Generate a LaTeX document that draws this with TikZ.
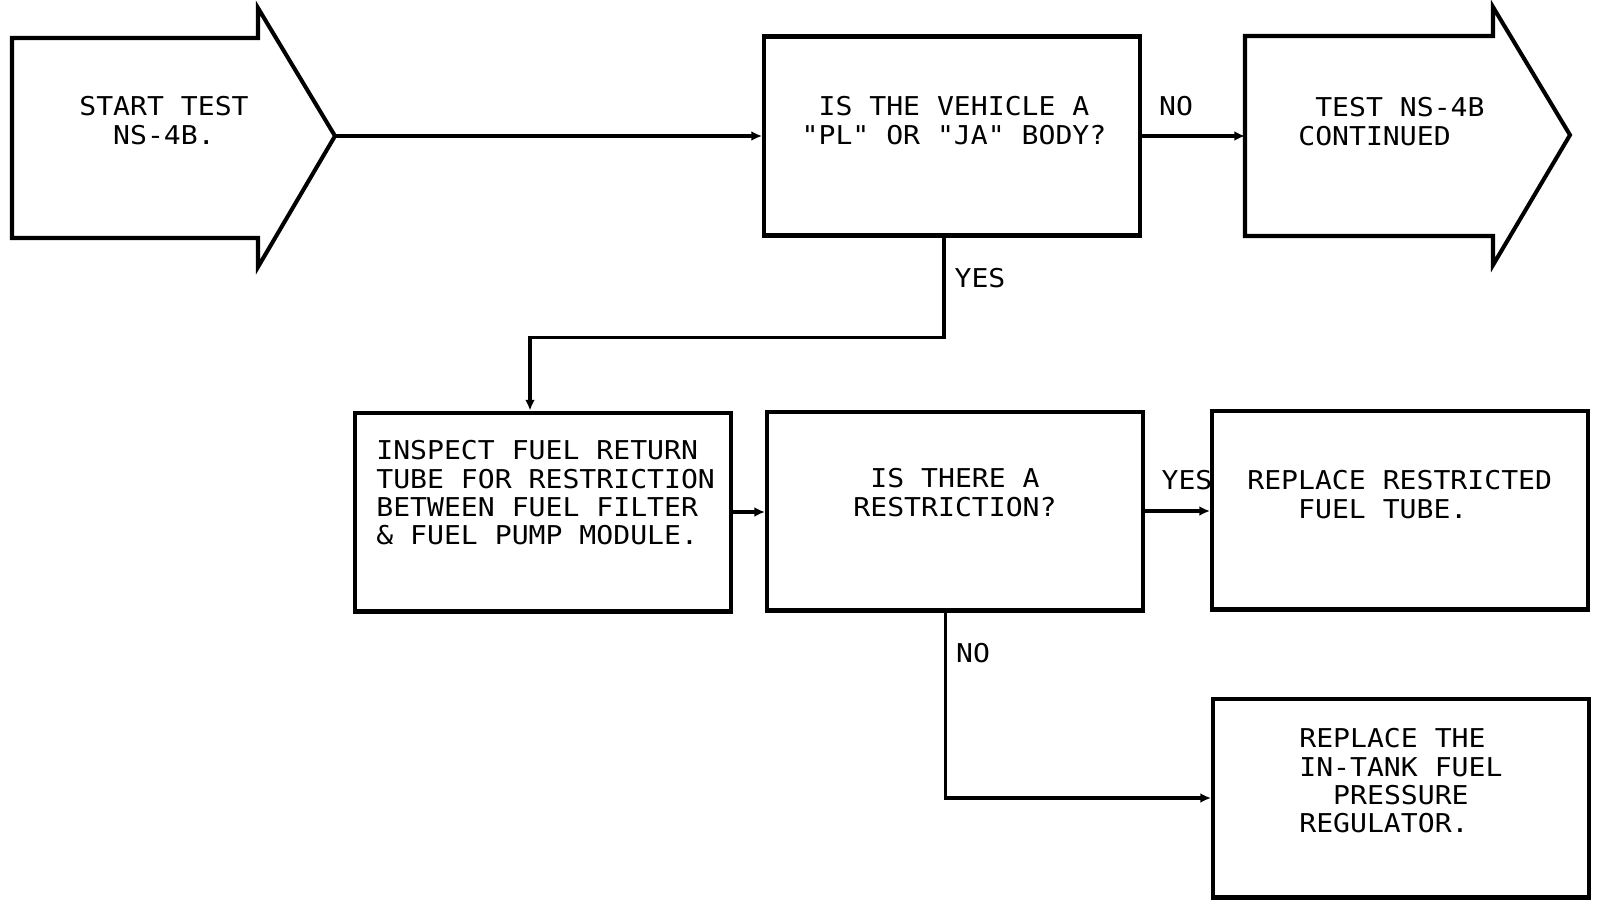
\documentclass[tikz,border=0pt]{standalone}
\usepackage{fontspec}
\setmonofont[FakeStretch=1.085]{DejaVu Sans Mono}
\usetikzlibrary{arrows.meta}

\begin{document}
\begin{tikzpicture}[
  x=0.02cm, y=-0.02cm,
  every node/.style={font=\ttfamily\fontsize{14.75}{16.2}\selectfont, inner sep=0pt},
  procbox/.style={draw, line width=2.3pt, minimum width=7.52cm, minimum height=3.98cm},
  bigarrow/.style={draw, line width=2.3pt, line join=miter},
  conn/.style={line width=2pt, -{Latex[length=6pt,width=5.5pt]}},
  boxtext/.style={align=center, anchor=north},
  lefttext/.style={align=left, anchor=north west},
  lbl/.style={anchor=center}
]
\useasboundingbox (0,0) rectangle (1600,906);

\draw[bigarrow] (12,38) -- (258,38) -- (258,8) -- (335,136) -- (258,267) -- (258,238) -- (12,238) -- cycle;
\coordinate (start) at (335,136);
\node[boxtext] (starttext) at (164,96) {START TEST\\NS-4B.};

\node[procbox] (body) at (952,136) {};
\node[boxtext] (bodytext) at (954,96) {IS THE VEHICLE A\\"PL" OR "JA" BODY?};

\draw[bigarrow] (1245,36) -- (1493,36) -- (1493,7) -- (1570,135) -- (1493,265) -- (1493,236) -- (1245,236) -- cycle;
\coordinate (cont) at (1245,136);
\node[lefttext] (conttext) at (1298,97) {\phantom{X}TEST NS-4B\\CONTINUED};

\node[procbox] (inspect) at (543,512) {};
\node[lefttext] (inspecttext) at (376,440) {INSPECT FUEL RETURN\\TUBE FOR RESTRICTION\\BETWEEN FUEL FILTER\\\& FUEL PUMP MODULE.};

\node[procbox] (restr) at (955,511) {};
\node[boxtext] (restrtext) at (955,468) {IS THERE A\\RESTRICTION?};

\node[procbox] (tube) at (1400,510) {};
\node[lefttext] (tubetext) at (1247,470) {REPLACE RESTRICTED\\\phantom{XXX}FUEL TUBE.};

\node[procbox] (regulator) at (1401,798) {};
\node[lefttext] (regtext) at (1299,728) {REPLACE THE\\IN-TANK FUEL\\\phantom{XX}PRESSURE\\REGULATOR.};

\node[lbl] (no1) at (1176,106) {NO};
\node[lbl] (yes1) at (980,278) {YES};
\node[lbl] (yes2) at (1187,480) {YES};
\node[lbl] (no2) at (973,653) {NO};

\draw[conn] (start) -- (body);
\draw[conn] (body) -- (cont);
\draw[conn] ([xshift=-0.16cm]body.south) -- ++(0,100) -| ([xshift=-0.26cm]inspect.north);
\draw[conn] (inspect.east) -- (inspect.east -| restr.west);
\draw[conn] (restr.east) -- (restr.east -| tube.west);
\draw[conn] ([xshift=-0.19cm]restr.south) |- (regulator.west);
\end{tikzpicture}
\end{document}
